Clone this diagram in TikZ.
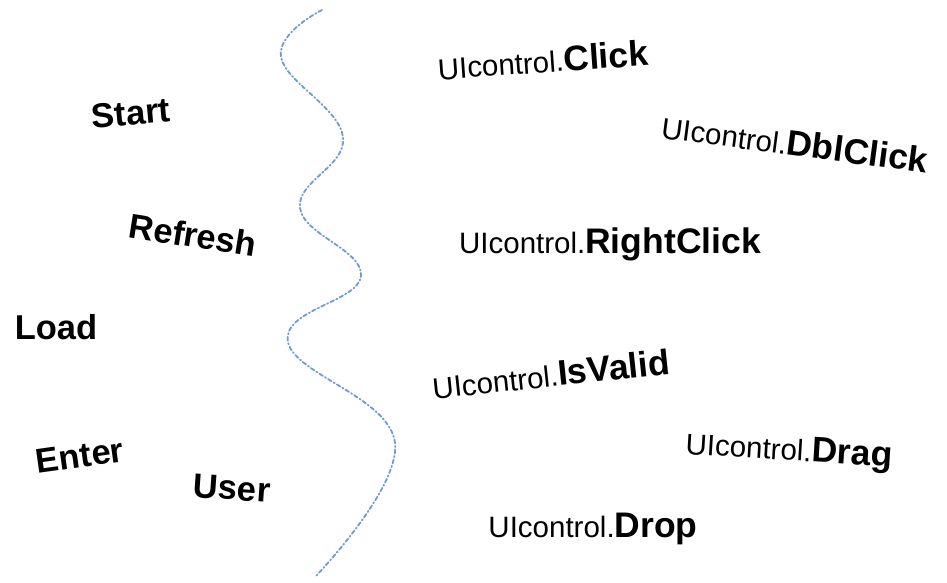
\documentclass[tikz,border=0pt]{standalone}
\usepackage{fontspec}
\setmainfont{Liberation Sans}
\definecolor{wavecol}{HTML}{6F9BD6}
\tikzset{
  wave/.style={draw=wavecol, line width=1.8pt, dash pattern=on 4pt off 2.5pt on 1.2pt off 2.5pt, line cap=round},
  bw/.style={inner sep=0pt, font=\fontsize{34.5}{40}\selectfont\bfseries},
  ui/.style={inner sep=0pt, font=\fontsize{29.5}{34}\selectfont},
}
\newcommand{\uiop}[1]{UIcontrol.{\fontsize{35.5}{40}\selectfont\bfseries #1}}
\begin{document}
\begin{tikzpicture}[x=1pt,y=-1pt]
\useasboundingbox (0,0) rectangle (947,582);
\draw[wave] plot[smooth, tension=0.7] coordinates {(322,10) (281,57) (343,137) (300,208) (361,276) (288,342) (395,443) (315,577)};
\node[bw, rotate=5] (start) at (131,113) {Start};
\node[bw, rotate=-9] (refresh) at (193,235) {Refresh};
\node[bw] (load) at (56,327) {Load};
\node[bw, rotate=8] (enter) at (80,456) {Enter};
\node[bw, rotate=-4] (user) at (232,488) {User};
\node[ui, rotate=4] (click) at (543,60) {\uiop{Click}};
\node[ui, rotate=-7.5] (dbl) at (795,143) {\uiop{DblClick}};
\node[ui] (right) at (610,244) {\uiop{RightClick}};
\node[ui, rotate=6] (valid) at (551,374) {\uiop{IsValid}};
\node[ui, rotate=-3.5] (drag) at (789,452) {\uiop{Drag}};
\node[ui] (drop) at (593,529) {\uiop{Drop}};
\end{tikzpicture}
\end{document}
